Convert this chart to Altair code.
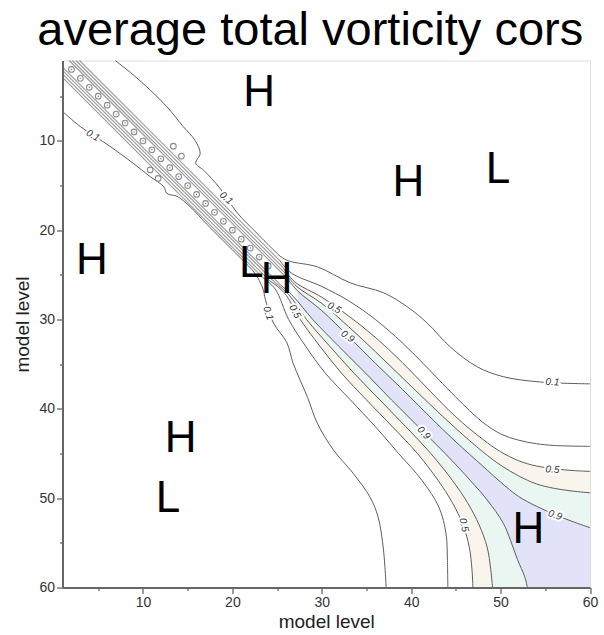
import altair as alt
import pandas as pd

TITLE = "average total vorticity cors"
AXIS_TITLE = "model level"
DOMAIN = [1, 60]
TICK_VALUES = [5, 10, 15, 20, 25, 30, 35, 40, 45, 50, 55, 60]

# ---- outer 0.1 contours ----
C01_UP_X = [6.9, 8.9, 10.8, 12.7, 14.5, 15.8, 16.4, 15.9, 16.8, 18.6, 20.5, 22.5, 24.5, 25.6,
            26.5, 29.5, 33.2, 36.9, 39.6, 41.8, 44.4, 47.4, 50.3, 54.5, 60.0]
C01_UP_Y = [1.0, 2.6, 4.3, 6.2, 8.4, 9.9, 11.4, 12.5, 13.3, 15.3, 18.0, 20.1, 22.1, 23.1,
            23.5, 24.1, 25.9, 27.0, 28.6, 30.4, 33.1, 35.3, 36.4, 37.0, 37.2]
C01_LO_X = [1.0, 3.0, 6.3, 8.9, 10.8, 12.3, 12.7, 13.8, 15.3, 17.1, 19.0, 21.0, 22.5, 23.4,
            23.7, 24.6, 26.1, 26.8, 28.4, 29.5, 31.3, 33.5, 35.4, 36.3, 36.9, 37.2]
C01_LO_Y = [6.7, 8.4, 10.6, 12.5, 14.0, 15.1, 15.9, 16.2, 17.4, 19.3, 21.2, 23.2, 24.8, 26.5,
            27.8, 30.4, 32.6, 34.9, 38.7, 41.6, 44.6, 47.2, 49.9, 52.1, 55.8, 60.0]

# ---- narrow band along the diagonal (levels 0.3 .. 0.9) ----
B03_UP_X = [2.9, 14.0, 25.3]; B03_UP_Y = [1.0, 12.1, 23.4]
B05_UP_X = [2.5, 14.0, 25.6]; B05_UP_Y = [1.0, 12.5, 24.1]
B07_UP_X = [2.1, 14.0, 25.9]; B07_UP_Y = [1.0, 12.9, 24.8]
B09_UP_X = [1.75, 14.0, 26.1]; B09_UP_Y = [1.0, 13.25, 25.35]
B03_LO_X = [1.0, 12.1, 23.4]; B03_LO_Y = [2.9, 14.0, 25.3]
B05_LO_X = [1.0, 12.5, 24.1]; B05_LO_Y = [2.5, 14.0, 25.6]
B07_LO_X = [1.0, 12.9, 24.8]; B07_LO_Y = [2.1, 14.0, 25.9]
B09_LO_X = [1.0, 13.25, 25.35]; B09_LO_Y = [1.75, 14.0, 26.1]

# ---- fan of contours in the lower right ----
F03_UP_X = [26.6, 30, 33, 36, 39, 42, 45, 48, 50, 52, 54, 56, 60]
F03_UP_Y = [24.8, 26.3, 27.9, 30.0, 32.6, 35.6, 38.7, 41.5, 42.8, 43.5, 43.9, 44.1, 44.2]
F05_UP_X = [27.0, 30, 33, 36, 39, 42, 45, 48, 50, 52, 54, 56, 58, 60]
F05_UP_Y = [25.8, 27.5, 29.6, 32.0, 34.8, 37.9, 40.9, 43.4, 44.8, 45.8, 46.4, 46.7, 46.9, 47.0]
F07_UP_X = [27.2, 30, 33, 36, 39, 42, 45, 48, 50, 52, 54, 56, 58, 60]
F07_UP_Y = [26.3, 28.2, 30.8, 33.6, 36.5, 39.4, 42.2, 44.8, 46.3, 47.5, 48.4, 48.9, 49.2, 49.4]
F09_UP_X = [27.3, 30, 33, 36, 39, 42, 45, 48, 50, 52, 54, 56, 58, 60]
F09_UP_Y = [26.8, 29.0, 31.9, 34.9, 37.8, 40.8, 43.7, 46.4, 48.2, 49.8, 50.9, 51.8, 52.6, 53.3]

F03_LO_X = [24.8, 26.3, 28.2, 30.4, 33.2, 36.0, 38.6, 41.2, 43.1, 43.9, 44.05, 44.1]
F03_LO_Y = [26.6, 30, 33, 36, 39, 42, 45, 48, 51, 54, 57, 60]
F05_LO_X = [25.8, 27.6, 29.8, 32.2, 35.0, 37.9, 40.7, 43.0, 44.6, 45.8, 46.5, 46.8, 46.9]
F05_LO_Y = [27.0, 30, 33, 36, 39, 42, 45, 48, 50.5, 53, 55.5, 58, 60]
F07_LO_X = [26.3, 28.3, 30.9, 33.6, 36.5, 39.4, 42.2, 44.6, 46.3, 47.6, 48.5, 48.9, 49.1]
F07_LO_Y = [27.2, 30, 33, 36, 39, 42, 45, 48, 50.5, 53, 55.5, 58, 60]
F09_LO_X = [26.8, 29.0, 31.9, 34.9, 37.8, 40.8, 43.8, 46.6, 48.5, 50.3, 51.1, 51.9, 52.7, 53.0]
F09_LO_Y = [27.4, 30, 33, 36, 39, 42, 45, 48, 50.2, 52.8, 54.7, 56.9, 58.8, 60]

# ---- small closed loops ----
DIAG_LOOPS = [2, 3, 4, 5, 6, 7, 8, 9, 10, 11, 12, 13, 14, 15, 16, 17, 18, 19, 20, 21, 22, 23, 24]
SIDE_LOOP_X = [13.4, 14.3, 10.8, 11.7]
SIDE_LOOP_Y = [10.6, 11.7, 13.25, 14.2]

# ---- contour labels ----
LABEL_TEXT = ["0.1", "0.1", "0.1", "0.5", "0.5", "0.9", "0.9", "0.1", "0.5", "0.9", "0.5"]
LABEL_X = [4.4, 19.3, 24.0, 27.0, 31.4, 32.9, 41.4, 55.8, 55.8, 56.1, 45.9]
LABEL_Y = [9.4, 16.4, 29.3, 29.1, 28.7, 31.9, 42.7, 37.0, 46.8, 51.9, 53.0]
LABEL_ANGLE = [30, 42, 72, 62, 28, 35, 48, 3, 3, 18, 78]

# ---- highs and lows ----
HL_TEXT = ["H", "H", "L", "H", "H", "L", "H", "L", "H"]
HL_X = [23.0, 4.3, 22.1, 24.95, 39.7, 49.7, 14.2, 12.8, 53.1]
HL_Y = [4.4, 23.2, 23.6, 25.3, 14.5, 13.0, 43.2, 49.9, 53.3]


def lines_df(pairs):
    rows = []
    for name, xs, ys in pairs:
        for i, (x, y) in enumerate(zip(xs, ys)):
            rows.append({"name": name, "seq": i, "x": x, "y": y})
    return pd.DataFrame(rows)


def curve_df(xs, ys):
    return pd.DataFrame({"x": xs, "y": ys})


xscale = alt.Scale(domain=DOMAIN, nice=False, zero=False)
yscale = alt.Scale(domain=DOMAIN, nice=False, zero=False, reverse=True)

tick_size = {"condition": {"test": "datum.value % 10 !== 0", "value": 3}, "value": 6}
axis_common = dict(
    values=TICK_VALUES,
    labelExpr="datum.value % 10 === 0 ? datum.label : ''",
    tickSize=tick_size,
    labelOverlap=False,
    labelFlush=False,
    grid=False,
    domainColor="#666",
    domainWidth=2,
    tickColor="#666",
    tickWidth=1.3,
    labelFont="Liberation Sans",
    labelFontSize=14,
    labelColor="#333",
    labelPadding=2,
    titleFont="Liberation Sans",
    titleFontSize=19,
    titleFontWeight="normal",
    titleColor="#222",
    zindex=1,
)
xaxis = alt.Axis(titlePadding=3, **axis_common)
yaxis = alt.Axis(titlePadding=6, **axis_common)

X = alt.X("x:Q", scale=xscale, axis=xaxis, title=AXIS_TITLE)
Y = alt.Y("y:Q", scale=yscale, axis=yaxis, title=AXIS_TITLE)

INTERP = "catmull-rom"

BLUE = "#e2e2f8"
GREEN = "#eaf6f1"
ORANGE = "#f9f4ec"


def area(xs, ys, color):
    return alt.Chart(curve_df(xs, ys)).mark_area(color=color, interpolate=INTERP, opacity=1).encode(
        x=X, y=Y, y2=alt.datum(60)
    )


areas = [
    area(F05_UP_X, F05_UP_Y, ORANGE),
    area(F07_UP_X, F07_UP_Y, GREEN),
    area(F09_UP_X, F09_UP_Y, BLUE),
    area(F09_LO_X, F09_LO_Y, GREEN),
    area(F07_LO_X, F07_LO_Y, ORANGE),
    area(F05_LO_X, F05_LO_Y, "white"),
]

band_df = lines_df([
    ("b03u", B03_UP_X, B03_UP_Y), ("b05u", B05_UP_X, B05_UP_Y),
    ("b07u", B07_UP_X, B07_UP_Y), ("b09u", B09_UP_X, B09_UP_Y),
    ("b03l", B03_LO_X, B03_LO_Y), ("b05l", B05_LO_X, B05_LO_Y),
    ("b07l", B07_LO_X, B07_LO_Y), ("b09l", B09_LO_X, B09_LO_Y),
])
main_df = lines_df([
    ("c01u", C01_UP_X, C01_UP_Y), ("c01l", C01_LO_X, C01_LO_Y),
    ("f03u", B03_UP_X[-1:] + F03_UP_X, B03_UP_Y[-1:] + F03_UP_Y),
    ("f05u", B05_UP_X[-1:] + F05_UP_X, B05_UP_Y[-1:] + F05_UP_Y),
    ("f07u", B07_UP_X[-1:] + F07_UP_X, B07_UP_Y[-1:] + F07_UP_Y),
    ("f09u", B09_UP_X[-1:] + F09_UP_X, B09_UP_Y[-1:] + F09_UP_Y),
    ("f03l", B03_LO_X[-1:] + F03_LO_X, B03_LO_Y[-1:] + F03_LO_Y),
    ("f05l", B05_LO_X[-1:] + F05_LO_X, B05_LO_Y[-1:] + F05_LO_Y),
    ("f07l", B07_LO_X[-1:] + F07_LO_X, B07_LO_Y[-1:] + F07_LO_Y),
    ("f09l", B09_LO_X[-1:] + F09_LO_X, B09_LO_Y[-1:] + F09_LO_Y),
])

band_lines = alt.Chart(band_df).mark_line(color="#999999", strokeWidth=1.1, interpolate=INTERP).encode(
    x=X, y=Y, detail="name:N", order="seq:Q"
)
main_lines = alt.Chart(main_df).mark_line(color="#5e5e5e", strokeWidth=1, interpolate=INTERP).encode(
    x=X, y=Y, detail="name:N", order="seq:Q"
)

loops_df = pd.concat([
    pd.DataFrame({"x": DIAG_LOOPS, "y": DIAG_LOOPS}),
    pd.DataFrame({"x": SIDE_LOOP_X, "y": SIDE_LOOP_Y}),
], ignore_index=True)
loops = alt.Chart(loops_df).mark_point(shape="circle", size=32, filled=False, color="#8a8a8a",
                                       strokeWidth=1.1, opacity=1).encode(x=X, y=Y)
loop_dots = alt.Chart(pd.DataFrame({"x": DIAG_LOOPS, "y": DIAG_LOOPS})).mark_point(
    shape="circle", size=2, filled=True, color="#6670e0", opacity=1).encode(x=X, y=Y)

lab_df = pd.DataFrame({"x": LABEL_X, "y": LABEL_Y, "t": LABEL_TEXT, "a": LABEL_ANGLE})
lab_halo = alt.Chart(lab_df).mark_text(font="Liberation Sans", fontSize=10, fontStyle="italic",
                                       color="white", stroke="white", strokeWidth=4,
                                       baseline="middle", align="center").encode(
    x=X, y=Y, text="t:N", angle=alt.Angle("a:Q", scale=None))
lab_text = alt.Chart(lab_df).mark_text(font="Liberation Sans", fontSize=10, fontStyle="italic",
                                       color="#333", baseline="middle", align="center").encode(
    x=X, y=Y, text="t:N", angle=alt.Angle("a:Q", scale=None))

hl_df = pd.DataFrame({"x": HL_X, "y": HL_Y, "t": HL_TEXT})
hl = alt.Chart(hl_df).mark_text(font="Liberation Sans", fontSize=44, color="black",
                                baseline="middle", align="center", dy=2).encode(
    x=X, y=Y, text="t:N")

chart = alt.layer(*areas, band_lines, main_lines, loops, loop_dots, lab_halo, lab_text, hl).properties(
    width=527.5,
    height=527,
    title=alt.TitleParams(TITLE, font="Liberation Sans", fontSize=47, fontWeight="normal",
                          color="black", anchor="middle", dx=-16, offset=3),
    padding={"left": 62.5, "top": 60.5, "right": 14, "bottom": 47.5},
    autosize=alt.AutoSizeParams(type="none"),
).configure_view(stroke="#777", strokeWidth=1).configure(background="white")

chart.save("out.html", embed_options={"renderer": "svg", "actions": False})
